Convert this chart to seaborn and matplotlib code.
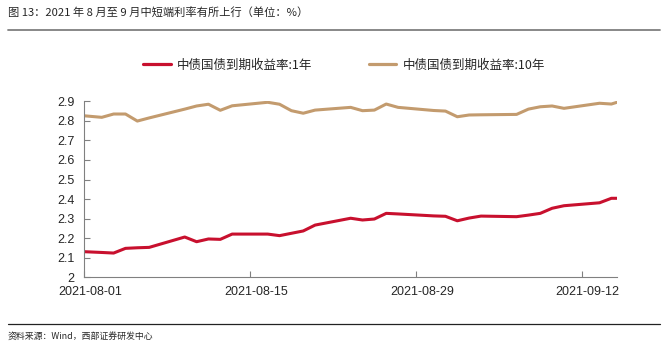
import matplotlib
matplotlib.use("Agg")
import matplotlib.pyplot as plt
import matplotlib.dates as mdates
from matplotlib.lines import Line2D
import seaborn as sns
import pandas as pd

# ---- data ----
dates = ["2021-07-30",
         "2021-08-02", "2021-08-03", "2021-08-04", "2021-08-05", "2021-08-06",
         "2021-08-09", "2021-08-10", "2021-08-11", "2021-08-12", "2021-08-13",
         "2021-08-16", "2021-08-17", "2021-08-18", "2021-08-19", "2021-08-20",
         "2021-08-23", "2021-08-24", "2021-08-25", "2021-08-26", "2021-08-27",
         "2021-08-30", "2021-08-31", "2021-09-01", "2021-09-02", "2021-09-03",
         "2021-09-06", "2021-09-07", "2021-09-08", "2021-09-09", "2021-09-10",
         "2021-09-13", "2021-09-14", "2021-09-15"]
yield_1y = [2.135,
            2.127, 2.124, 2.148, 2.151, 2.153,
            2.206, 2.182, 2.196, 2.194, 2.221,
            2.221, 2.213, 2.225, 2.237, 2.267,
            2.302, 2.293, 2.298, 2.327, 2.324,
            2.314, 2.312, 2.289, 2.303, 2.313,
            2.310, 2.318, 2.327, 2.353, 2.366,
            2.381, 2.404, 2.404]
yield_10y = [2.834,
             2.818, 2.835, 2.835, 2.799, 2.815,
             2.860, 2.876, 2.885, 2.854, 2.877,
             2.895, 2.885, 2.852, 2.839, 2.855,
             2.869, 2.852, 2.855, 2.886, 2.869,
             2.853, 2.850, 2.821, 2.830, 2.831,
             2.833, 2.860, 2.872, 2.876, 2.864,
             2.890, 2.886, 2.905]
series_names = ["中债国债到期收益率:1年", "中债国债到期收益率:10年"]
tick_dates = ["2021-08-01", "2021-08-15", "2021-08-29", "2021-09-12"]
y_ticks = [2.0, 2.1, 2.2, 2.3, 2.4, 2.5, 2.6, 2.7, 2.8, 2.9]
y_labels = ["2", "2.1", "2.2", "2.3", "2.4", "2.5", "2.6", "2.7", "2.8", "2.9"]
title = "图 13：2021 年 8 月至 9 月中短端利率有所上行（单位：%）"
source = "资料来源：Wind，西部证券研发中心"

df = pd.DataFrame({
    "date": pd.to_datetime(dates * 2),
    "value": yield_1y + yield_10y,
    "series": [series_names[0]] * len(dates) + [series_names[1]] * len(dates),
})

sns.set_style("ticks")
plt.rcParams["font.family"] = ["Noto Sans CJK SC", "DejaVu Sans"]

W, H = 667, 358
fig = plt.figure(figsize=(W / 100, H / 100), dpi=100)
ax = fig.add_axes([84 / W, 1 - 277.3 / H, (617.3 - 84) / W, (277.3 - 101.3) / H])

palette = {series_names[0]: "#C8102E", series_names[1]: "#C39B6E"}
sns.lineplot(data=df, x="date", y="value", hue="series", palette=palette,
             linewidth=2.2, ax=ax, legend=False)

half = pd.Timedelta(hours=12)
ax.set_xlim(pd.Timestamp("2021-08-01") - half, pd.Timestamp("2021-09-14") + half)
ax.set_ylim(2.0, 2.9)

# ticks at slot boundaries, labels centred in the day slot
tick_ts = pd.to_datetime(tick_dates)
ax.set_xticks([mdates.date2num(t - half) for t in tick_ts])
ax.set_xticklabels([""] * len(tick_ts))
ax.set_xticks([mdates.date2num(t) for t in tick_ts], minor=True)
ax.set_xticklabels(tick_dates, minor=True, family=["Liberation Sans"], fontsize=9)
ax.tick_params(axis="x", which="major", direction="in", length=4.5, color="#808080", width=0.8)
ax.tick_params(axis="x", which="minor", length=0, pad=6)

ax.set_yticks(y_ticks)
ax.set_yticklabels(y_labels, family=["Liberation Sans"], fontsize=9)
ax.tick_params(axis="y", direction="in", length=4, color="#808080", width=0.8, pad=7)

ax.set_xlabel("")
ax.set_ylabel("")
for s in ["top", "right"]:
    ax.spines[s].set_visible(False)
for s in ["left", "bottom"]:
    ax.spines[s].set_color("#808080")
    ax.spines[s].set_linewidth(0.8)

handles = [Line2D([], [], color=palette[n], linewidth=2.3) for n in series_names]
fig.legend(handles, series_names, loc="center", bbox_to_anchor=(344 / W, 1 - 65 / H),
           ncol=2, frameon=False, fontsize=9, handlelength=2.2, handletextpad=0.5,
           columnspacing=4.5)

fig.text(8 / W, 1 - 13 / H, title, fontsize=8.1, va="center", ha="left")
fig.add_artist(Line2D([8 / W, 660 / W], [1 - 30 / H] * 2, color="#7f7f7f", linewidth=1.3))
fig.add_artist(Line2D([8 / W, 660 / W], [1 - 323.5 / H] * 2, color="#222222", linewidth=0.9))
fig.text(8 / W, 1 - 337 / H, source, fontsize=6.4, va="center", ha="left")

fig.savefig("out.png", dpi=100)
